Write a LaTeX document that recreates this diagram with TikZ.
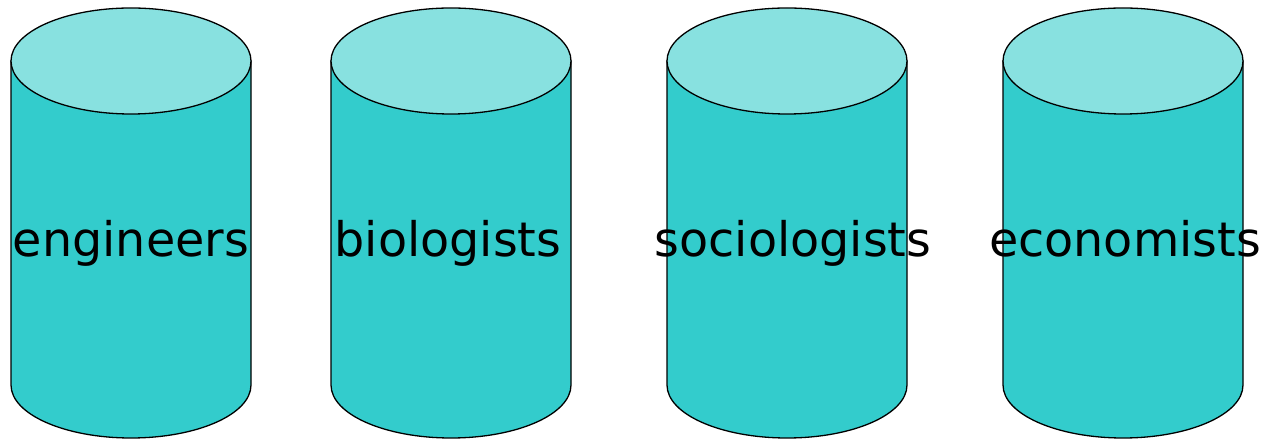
\documentclass[tikz,border=0pt]{standalone}
\usepackage{fontspec}
\setmainfont{DejaVu Sans}
\definecolor{cylbody}{HTML}{33CCCC}
\definecolor{cyltop}{HTML}{88E1E0}
\tikzset{
  cyl/.style={draw=black, line width=1.3pt, fill=cylbody},
  cyltopst/.style={draw=black, line width=1.3pt, fill=cyltop},
  lbl/.style={font=\fontsize{47.6}{50}\selectfont, text=black, anchor=base, inner sep=0pt}
}
\begin{document}
\begin{tikzpicture}[x=1pt,y=1pt]
\useasboundingbox (0,0) rectangle (1266,441);
\foreach \cx/\tx/\nm/\txt in {131/131/eng/engineers, 451/448/bio/biologists, 787/793/soc/sociologists, 1123/1125/eco/economists}{
  \path[cyl] (\cx-120,441-61) -- (\cx-120,441-385)
     arc[start angle=180, end angle=360, x radius=120, y radius=53]
     -- (\cx+120,441-61) -- cycle;
  \path[cyltopst] (\cx,441-61) ellipse[x radius=120, y radius=53];
  \node[lbl] (\nm) at (\tx,441-257) {\txt};
}
\end{tikzpicture}
\end{document}
